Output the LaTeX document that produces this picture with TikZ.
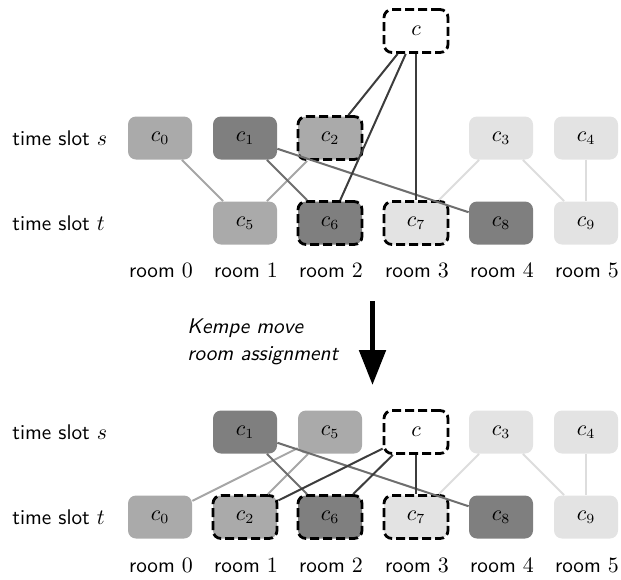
\documentclass[tikz,border=0pt]{standalone}
\usetikzlibrary{arrows.meta}

\definecolor{fdarkc}{HTML}{7F7F7F}
\definecolor{fmidc}{HTML}{AAAAAA}
\definecolor{flightc}{HTML}{E3E3E3}
\definecolor{edarkc}{HTML}{6E6E6E}
\definecolor{emidc}{HTML}{A6A6A6}
\definecolor{elightc}{HTML}{DDDDDD}
\definecolor{ecritc}{HTML}{3C3C3C}

\begin{document}
\begin{tikzpicture}[x=0.5pt,y=-0.5pt,
  txt/.style={font=\fontsize{10.6}{13.5}\selectfont},
  course/.style={rectangle, rounded corners=4pt, minimum width=32pt,
    minimum height=21.5pt, inner sep=0pt, txt},
  fdark/.style={course, fill=fdarkc},
  fmid/.style={course, fill=fmidc},
  flight/.style={course, fill=flightc},
  kempe/.style={draw=black, line width=1.4pt, dash pattern=on 4.5pt off 2pt},
  fnew/.style={course, fill=white, kempe},
  slotlbl/.style={anchor=west, inner sep=0pt, font=\fontsize{10.6}{13.5}\selectfont\sffamily},
  roomlbl/.style={anchor=base, inner sep=0pt, font=\fontsize{10.6}{13.5}\selectfont\sffamily},
  edark/.style={draw=edarkc, line width=1pt},
  emid/.style={draw=emidc, line width=1pt},
  elight/.style={draw=elightc, line width=1pt},
  ecrit/.style={draw=ecritc, line width=1pt},
]
\useasboundingbox (0,0) rectangle (621,579);

% ---------- before the move ----------
\node[fnew] (ac) at (416,31) {$c$};

\node[fmid]   (a0) at (160,138) {$c_0$};
\node[fdark]  (a1) at (245,138) {$c_1$};
\node[fmid,kempe] (a2) at (330,138) {$c_2$};
\node[flight] (a3) at (501,138) {$c_3$};
\node[flight] (a4) at (586,138) {$c_4$};

\node[fmid]   (a5) at (245,223) {$c_5$};
\node[fdark,kempe]  (a6) at (330,223) {$c_6$};
\node[flight,kempe] (a7) at (416,223) {$c_7$};
\node[fdark]  (a8) at (501,223) {$c_8$};
\node[flight] (a9) at (586,223) {$c_9$};

\draw[emid] (a0) -- (a5);
\draw[emid] (a2) -- (a5);
\draw[edark] (a1) -- (a6);
\draw[edark] (a1) -- (a8);
\draw[elight] (a3) -- (a7);
\draw[elight] (a3) -- (a9);
\draw[elight] (a4) -- (a9);
\draw[ecrit] (ac) -- (a2);
\draw[ecrit] (ac) -- (a6);
\draw[ecrit] (ac) -- (a7);

\node[slotlbl] (as) at (12,138) {time slot $s$};
\node[slotlbl] (at) at (12,223) {time slot $t$};
\foreach \r/\x in {0/161,1/246,2/331,3/417,4/502,5/587}
  \node[roomlbl] (ar\r) at (\x,277) {room $\r$};

% ---------- the move ----------
\coordinate (mvtop) at (372.5,301);
\coordinate (mvtip) at (372.5,385);
\draw[line width=2.6pt, -{Triangle[length=17.5pt,width=13pt]}] (mvtop) -- (mvtip);
\node[anchor=west, align=left, inner sep=0pt,
  font=\fontsize{10.6}{13.5}\selectfont\sffamily\itshape] (mvtxt) at (187,341.5)
  {Kempe move\\room assignment};

% ---------- after the move ----------
\node[fdark]  (b1) at (245,432) {$c_1$};
\node[fmid]   (b5) at (330,432) {$c_5$};
\node[fnew]   (bc) at (416,432) {$c$};
\node[flight] (b3) at (501,432) {$c_3$};
\node[flight] (b4) at (586,432) {$c_4$};

\node[fmid]   (b0) at (160,517) {$c_0$};
\node[fmid,kempe]   (b2) at (245,517) {$c_2$};
\node[fdark,kempe]  (b6) at (330,517) {$c_6$};
\node[flight,kempe] (b7) at (416,517) {$c_7$};
\node[fdark]  (b8) at (501,517) {$c_8$};
\node[flight] (b9) at (586,517) {$c_9$};

\draw[emid] (b5) -- (b0);
\draw[emid] (b5) -- (b2);
\draw[edark] (b1) -- (b6);
\draw[edark] (b1) -- (b8);
\draw[elight] (b3) -- (b7);
\draw[elight] (b3) -- (b9);
\draw[elight] (b4) -- (b9);
\draw[ecrit] (bc) -- (b2);
\draw[ecrit] (bc) -- (b6);
\draw[ecrit] (bc) -- (b7);

\node[slotlbl] (bs) at (12,432) {time slot $s$};
\node[slotlbl] (bt) at (12,517) {time slot $t$};
\foreach \r/\x in {0/161,1/246,2/331,3/417,4/502,5/587}
  \node[roomlbl] (br\r) at (\x,572) {room $\r$};
\end{tikzpicture}
\end{document}
